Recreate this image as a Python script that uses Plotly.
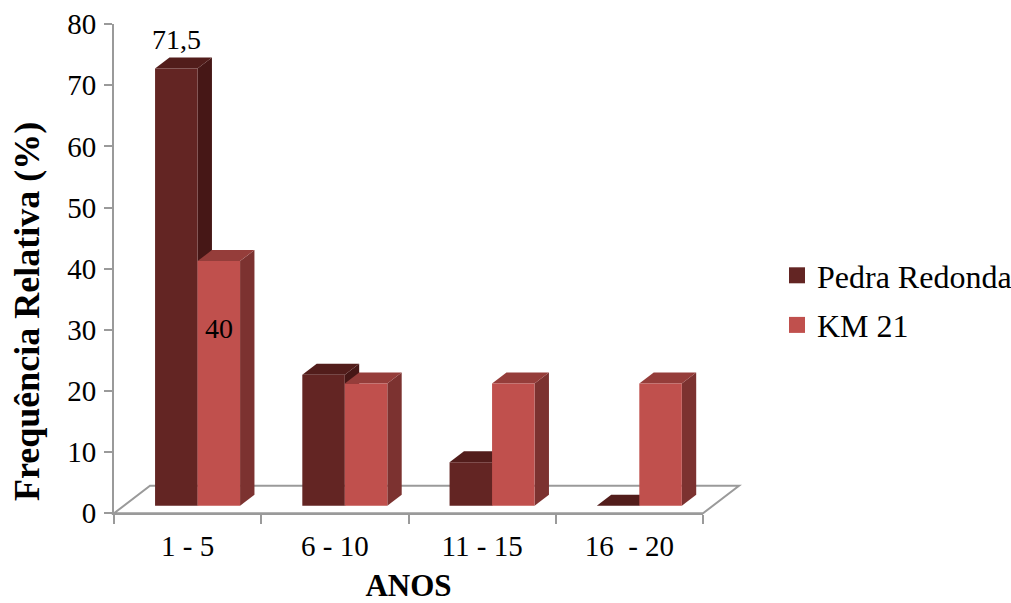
import plotly.graph_objects as go

# ---- data ----
CATEGORIES = ["1 - 5", "6 - 10", "11 - 15", "16  - 20"]
SERIES_NAMES = ["Pedra Redonda", "KM 21"]
PEDRA_REDONDA = [71.5, 21.4, 7.1, 0.0]
KM_21 = [40.0, 20.0, 20.0, 20.0]
Y_TICKS = [0, 10, 20, 30, 40, 50, 60, 70, 80]
# (series index, category index) of bars that carry a value label
LABELED = [(0, 0), (1, 0)]

# ---- styling ----
FONT = "Liberation Serif"
AXIS_GREY = "#9a9a9a"
FRONT = ["#632523", "#c0504d"]
SIDE = ["#461716", "#7c3230"]
TOP = ["#521d1b", "#953d3a"]

W, H = 1011, 603
# pixel frame of the front plane of the 3-D plot
LEFT_PX, RIGHT_PX = 114, 703
TOP_PX, ZERO_PX = 24.1, 513.3
Y_MAX = 80
CAT_PX = (RIGHT_PX - LEFT_PX) / len(CATEGORIES)
VAL_PX = (ZERO_PX - TOP_PX) / Y_MAX

# depth of the floor in pixels, and where the bar block sits inside it
FLOOR_DEPTH_PX = (36.0, 27.5)
BAR_START = 0.276      # fraction of floor depth before the bar front
BAR_DEPTH = 0.40       # fraction of floor depth taken by the bar
BAR_WIDTH_PX = 42.5

# depth vectors converted into data units of the full-page axes
DX = FLOOR_DEPTH_PX[0] / CAT_PX
DY = FLOOR_DEPTH_PX[1] / VAL_PX
SX, SY = BAR_START * DX, BAR_START * DY
BDX, BDY = BAR_DEPTH * DX, BAR_DEPTH * DY
BW = BAR_WIDTH_PX / CAT_PX

x2_range = [-0.5 - LEFT_PX / CAT_PX, -0.5 + (W - LEFT_PX) / CAT_PX]
y2_range = [-(H - ZERO_PX) / VAL_PX, ZERO_PX / VAL_PX]

fig = go.Figure()

# invisible trace that builds the category axis on the front plane
fig.add_trace(go.Scatter(x=CATEGORIES, y=[0] * len(CATEGORIES), mode="markers",
                         marker=dict(opacity=0), showlegend=False,
                         hoverinfo="skip", xaxis="x", yaxis="y"))

shapes = []
# floor of the 3-D plot
floor_path = (f"M{-0.5},{0} L{len(CATEGORIES) - 0.5},{0} "
              f"L{len(CATEGORIES) - 0.5 + DX},{DY} L{-0.5 + DX},{DY} Z")
shapes.append(dict(type="path", path=floor_path, xref="x2", yref="y2",
                   line=dict(color=AXIS_GREY, width=2), fillcolor="rgba(0,0,0,0)",
                   layer="below"))

all_values = [PEDRA_REDONDA, KM_21]
annotations = []
for s, values in enumerate(all_values):
    xs = [i + SX for i in range(len(CATEGORIES))]
    offset = -BW if s == 0 else 0.0
    # front faces
    fig.add_trace(go.Bar(x=xs, y=values, base=SY, offset=offset, width=BW,
                         marker=dict(color=FRONT[s], line=dict(width=0)),
                         name=SERIES_NAMES[s], showlegend=False,
                         xaxis="x2", yaxis="y2", hoverinfo="skip"))
    # side and top faces
    for i, v in enumerate(values):
        xl = xs[i] + offset
        xr = xl + BW
        y0, y1 = SY, SY + v
        side = (f"M{xr},{y0} L{xr + BDX},{y0 + BDY} L{xr + BDX},{y1 + BDY} "
                f"L{xr},{y1} Z")
        top = (f"M{xl},{y1} L{xr},{y1} L{xr + BDX},{y1 + BDY} "
               f"L{xl + BDX},{y1 + BDY} Z")
        if v > 0:
            shapes.append(dict(type="path", path=side, xref="x2", yref="y2",
                               fillcolor=SIDE[s], line=dict(width=0), layer="below"))
        shapes.append(dict(type="path", path=top, xref="x2", yref="y2",
                           fillcolor=TOP[s], line=dict(width=0), layer="below"))
    # legend entry
    fig.add_trace(go.Scatter(x=[None], y=[None], mode="markers",
                             marker=dict(symbol="square", size=16, color=FRONT[s]),
                             name=SERIES_NAMES[s], legendgroup=SERIES_NAMES[s],
                             xaxis="x2", yaxis="y2"))

# value labels
for s, i in LABELED:
    v = all_values[s][i]
    xc = i + SX + (-BW / 2 if s == 0 else BW / 2)
    txt = f"{v:g}".replace(".", ",")
    if s == 0:
        annotations.append(dict(x=xc, y=SY + v + BDY, xref="x2", yref="y2",
                                text=txt, showarrow=False, yanchor="bottom",
                                yshift=0, font=dict(family=FONT, size=28, color="black")))
    else:
        annotations.append(dict(x=xc, y=SY + v, xref="x2", yref="y2",
                                text=txt, showarrow=False, yanchor="middle",
                                yshift=-67, font=dict(family=FONT, size=28, color="black")))

# y-axis title
annotations.append(dict(x=27 / W, y=1 - 312 / H, xref="paper", yref="paper",
                        text="<b>Frequência Relativa (%)</b>", textangle=-90,
                        showarrow=False, xanchor="center", yanchor="middle",
                        font=dict(family=FONT, size=36, color="black")))

fig.update_layout(
    width=W, height=H,
    margin=dict(l=0, r=0, t=0, b=0, autoexpand=False),
    paper_bgcolor="white", plot_bgcolor="rgba(0,0,0,0)",
    font=dict(family=FONT, color="black"),
    barmode="overlay",
    hovermode=False,
    shapes=shapes,
    annotations=annotations,
    xaxis=dict(domain=[LEFT_PX / W, RIGHT_PX / W], range=[-0.5, len(CATEGORIES) - 0.5],
               type="category", categoryorder="array", categoryarray=CATEGORIES,
               tickson="boundaries", ticks="outside", ticklen=9, tickwidth=2,
               tickcolor=AXIS_GREY, showline=True, linecolor=AXIS_GREY, linewidth=2,
               showgrid=False, zeroline=False, anchor="y", automargin=False,
               ticklabelstandoff=6,
               tickfont=dict(family=FONT, size=29),
               title=dict(text="<b>ANOS</b>", font=dict(family=FONT, size=31),
                          standoff=14)),
    yaxis=dict(domain=[1 - ZERO_PX / H, 1 - TOP_PX / H], range=[0, Y_MAX],
               tickvals=Y_TICKS, ticks="outside", ticklen=8, tickwidth=2,
               tickcolor=AXIS_GREY, showline=True, linecolor=AXIS_GREY, linewidth=2,
               showgrid=False, zeroline=False, anchor="x", automargin=False,
               ticklabelstandoff=2,
               tickfont=dict(family=FONT, size=29)),
    xaxis2=dict(domain=[0, 1], range=x2_range, visible=False, anchor="y2",
                automargin=False),
    yaxis2=dict(domain=[0, 1], range=y2_range, visible=False, anchor="x2",
                automargin=False),
    legend=dict(x=777 / W, y=1 - 248 / H, xanchor="left", yanchor="top",
                font=dict(family=FONT, size=32), tracegroupgap=5,
                bgcolor="rgba(0,0,0,0)", itemclick=False),
)

fig.write_html("out.html")
